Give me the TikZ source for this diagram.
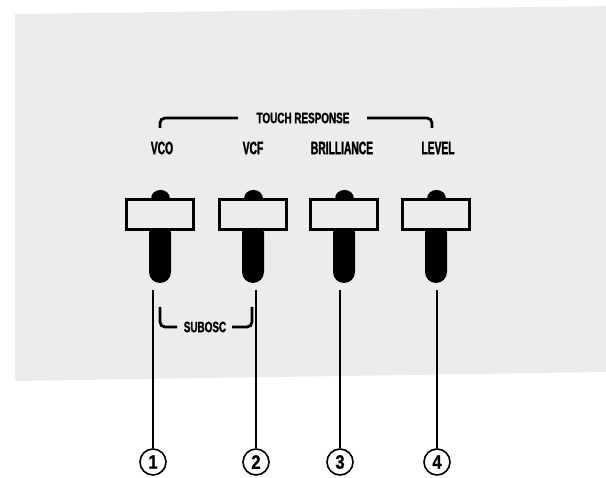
\documentclass[tikz,border=0pt]{standalone}
\usepackage{fontspec}
\newfontfamily\panelfont[FakeStretch=0.57,FakeBold=1.5]{Liberation Sans}
\newfontfamily\widefont[FakeStretch=0.66,FakeBold=1.3]{Liberation Sans}
\newfontfamily\numfont[FakeStretch=0.85,FakeBold=0.8]{Liberation Sans}
\usetikzlibrary{positioning}
\definecolor{panelgray}{RGB}{236,236,236}

\begin{document}
\begin{tikzpicture}[x=1pt, y=-1pt,
  lbl/.style={font=\panelfont\bfseries\fontsize{18}{18}\selectfont, inner sep=0pt},
  head/.style={font=\widefont\bfseries\fontsize{15}{15}\selectfont, inner sep=0pt},
  knobcap/.style={draw, line width=3.4pt, fill=panelgray, minimum width=67.5pt,
              minimum height=29.5pt, inner sep=0pt},
  stem/.style={fill=black, rounded corners=11pt},
  lead/.style={line width=1.5pt},
  brace/.style={line width=2.8pt, rounded corners=5pt},
  num/.style={draw, circle, line width=1.6pt, minimum size=26pt, inner sep=0pt,
              font=\numfont\bfseries\fontsize{19.5}{19.5}\selectfont}]

  \useasboundingbox (0,0) rectangle (606,478);
  % panel
  \fill[panelgray] (15,14) -- (606,6) -- (606,372) -- (15,381) -- cycle;

  % slider knobs
  \foreach \i/\x in {1/160, 2/253, 3/344, 4/436}{
    \fill[stem] (\x-11,222) rectangle (\x+11,283);
    \node[knobcap] (knob\i) at (\x,214.5) {};
    \fill ([xshift=-9.5pt,yshift=-1pt]knob\i.north)
      .. controls +(0,-12.5) and +(0,-12.5) .. ([xshift=9.5pt,yshift=-1pt]knob\i.north) -- cycle;
  }

  % labels
  \node[lbl] (vco)   at (162,148) {VCO};
  \node[lbl] (vcf)   at (253,148) {VCF};
  \node[lbl] (brill) at (342,148) {BRILLIANCE};
  \node[lbl] (level) at (438,148) {LEVEL};

  % touch response bracket
  \node[head] (touch) at (303,118) {TOUCH RESPONSE};
  \draw[brace] (238,118) -- (160,118) -- (160,128);
  \draw[brace] (367,118) -- (432,118) -- (432,128);

  % sub osc bracket
  \node[head] (subosc) at (205,327) {SUBOSC};
  \draw[brace] (160,307) -- (160,327) -- (177,327);
  \draw[brace] (232,327) -- (252,327) -- (252,307);

  % leaders and numbers
  \foreach \i/\x in {1/153, 2/256, 3/340, 4/437}{
    \node[num] (n\i) at (\x,462) {\i};
    \coordinate (top\i) at (\x,290);
    \draw[lead] (top\i) -- (n\i);
  }
\end{tikzpicture}
\end{document}
